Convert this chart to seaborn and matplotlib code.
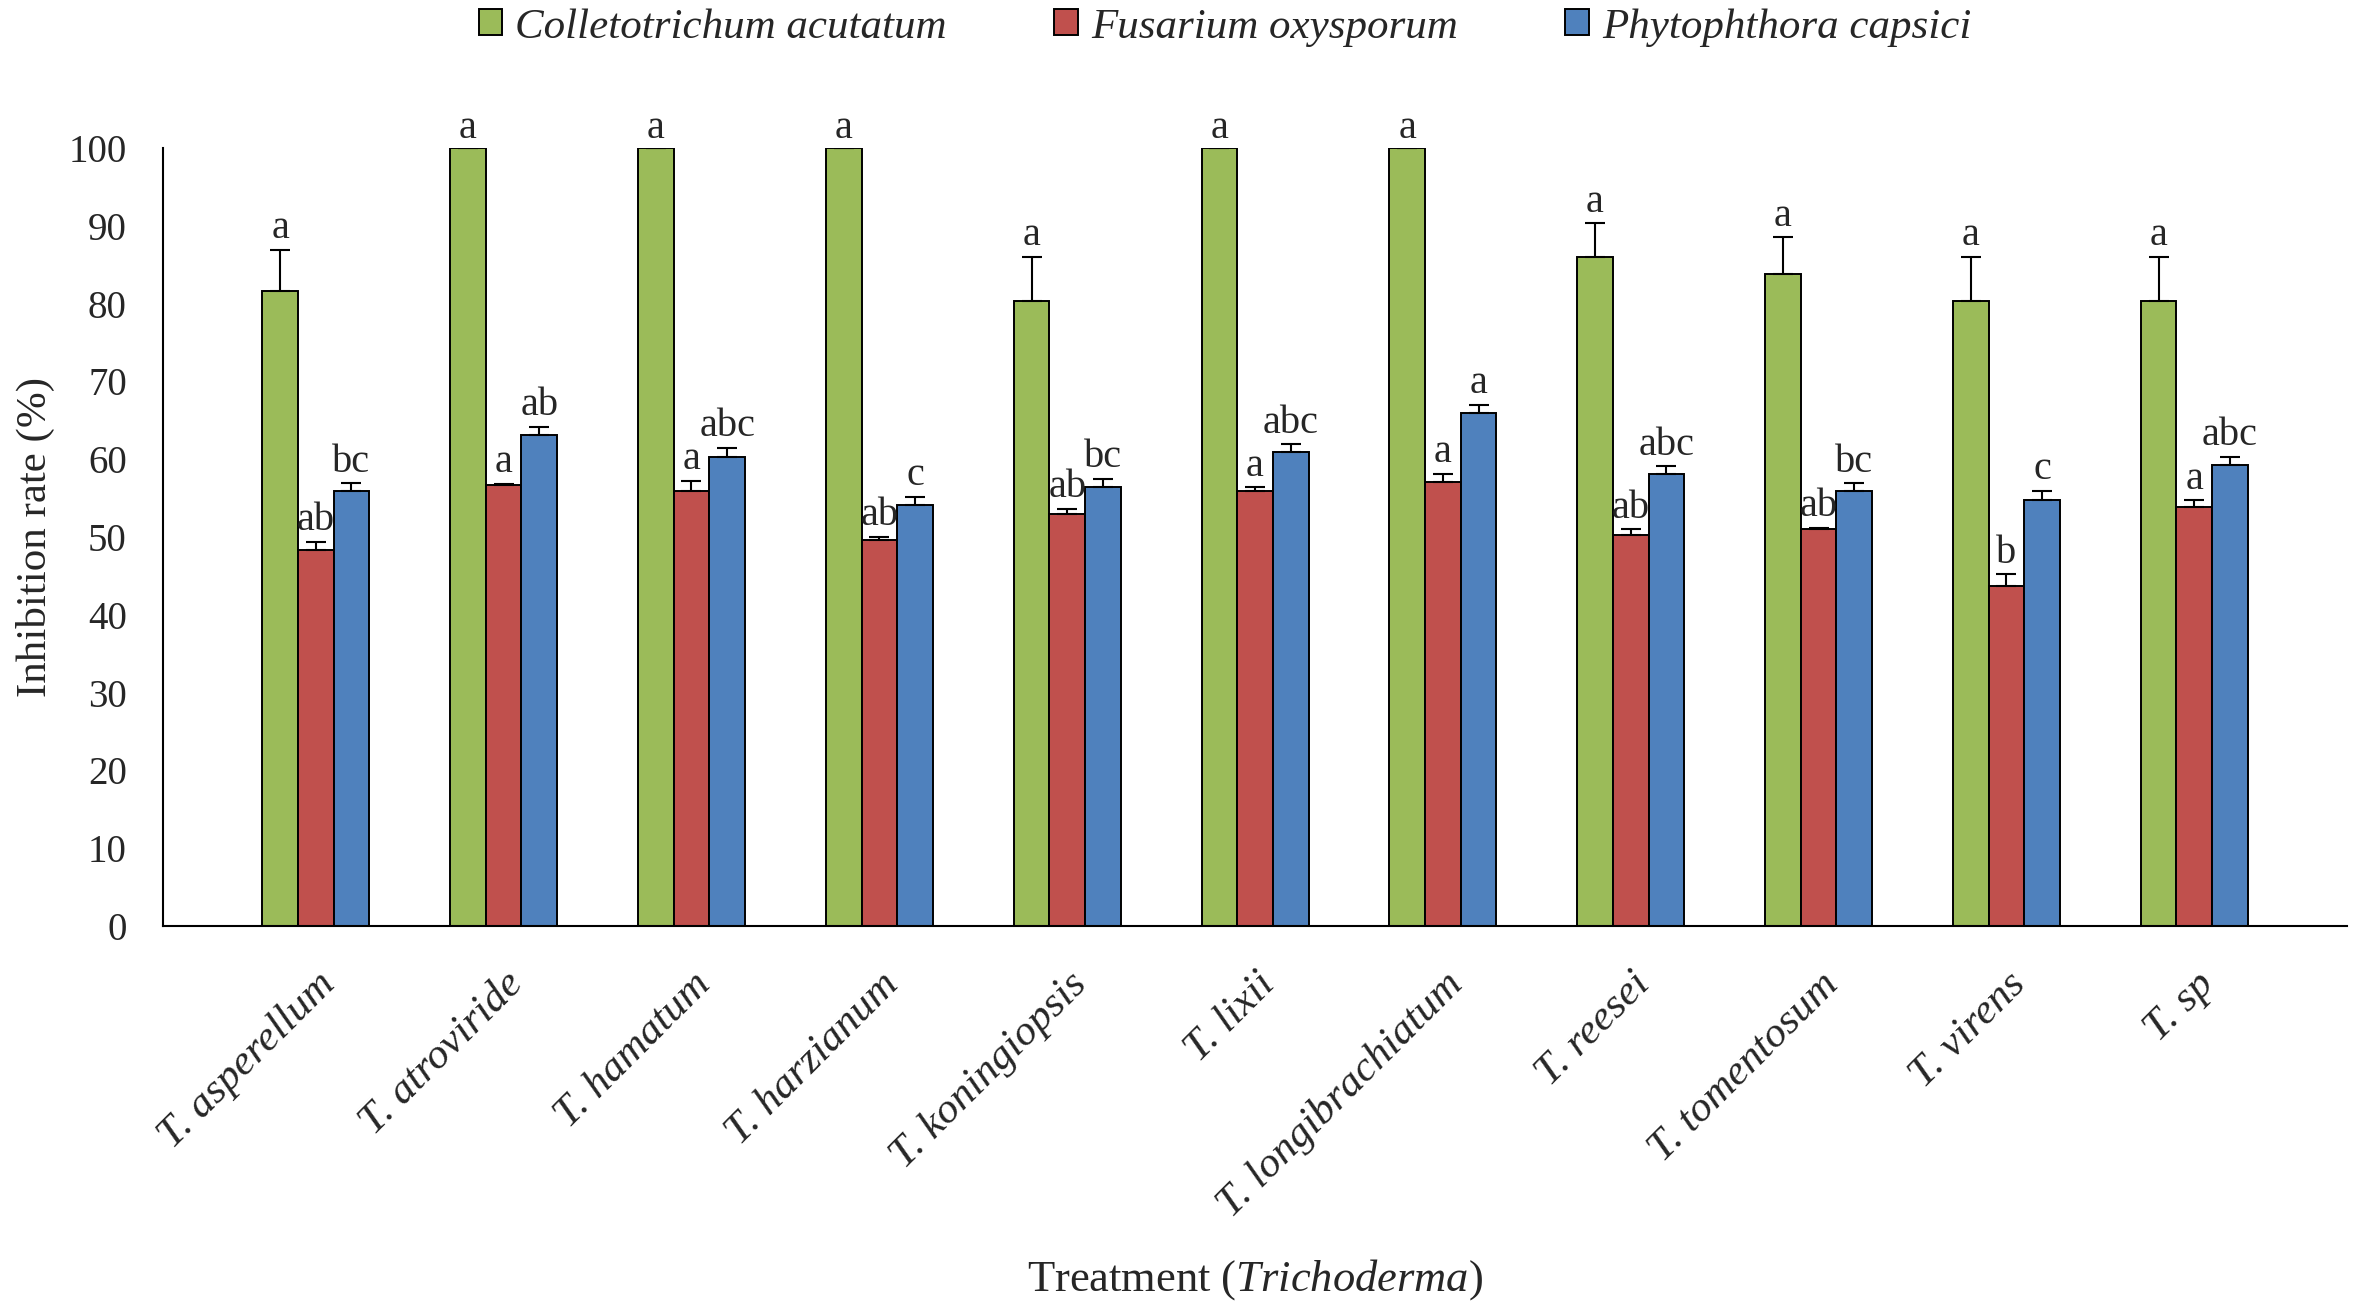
import pandas as pd
import numpy as np
import seaborn as sns
import matplotlib.pyplot as plt

# values (inhibition rate, %)
treatments = ["T. asperellum", "T. atroviride", "T. hamatum", "T. harzianum", "T. koningiopsis",
              "T. lixii", "T. longibrachiatum", "T. reesei", "T. tomentosum", "T. virens", "T. sp"]
pathogens = ["Colletotrichum acutatum", "Fusarium oxysporum", "Phytophthora capsici"]

colletotrichum = [81.6, 100, 100, 100, 80.4, 100, 100, 86.0, 83.8, 80.4, 80.4]
fusarium = [48.3, 56.7, 55.9, 49.6, 53.0, 55.9, 57.1, 50.2, 51.0, 43.7, 53.8]
phytophthora = [55.9, 63.1, 60.3, 54.1, 56.4, 60.9, 65.9, 58.1, 55.9, 54.7, 59.2]

colletotrichum_err = [5.3, 0, 0, 0, 5.6, 0, 0, 4.3, 4.7, 5.6, 5.6]
fusarium_err = [1.1, 0.1, 1.3, 0.4, 0.6, 0.5, 1.0, 0.8, 0.2, 1.5, 0.9]
phytophthora_err = [1.0, 1.1, 1.2, 1.1, 1.1, 1.0, 1.1, 1.0, 1.0, 1.2, 1.1]

colletotrichum_letters = ["a"] * 11
fusarium_letters = ["ab", "a", "a", "ab", "ab", "a", "a", "ab", "ab", "b", "a"]
phytophthora_letters = ["bc", "ab", "abc", "c", "bc", "abc", "a", "abc", "bc", "c", "abc"]

colors = ["#9BBB59", "#C0504D", "#4F81BD"]

df = pd.DataFrame({
    "treatment": treatments * 3,
    "pathogen": [p for p in pathogens for _ in treatments],
    "rate": colletotrichum + fusarium + phytophthora,
})
errs = [colletotrichum_err, fusarium_err, phytophthora_err]
letters = [colletotrichum_letters, fusarium_letters, phytophthora_letters]

sns.set_style("white")
plt.rcParams["font.family"] = ["Liberation Serif", "DejaVu Serif"]
plt.rcParams["mathtext.fontset"] = "custom"
plt.rcParams["mathtext.rm"] = "Liberation Serif"
plt.rcParams["mathtext.it"] = "Liberation Serif:italic"

fig, ax = plt.subplots(figsize=(23.62, 13.03), dpi=100)
fig.subplots_adjust(left=0.069, right=0.9937, bottom=0.2893, top=0.8864)

sns.barplot(data=df, x="treatment", y="rate", hue="pathogen", hue_order=pathogens,
            palette=colors, saturation=1, width=0.57, errorbar=None,
            edgecolor="black", linewidth=1.4, ax=ax)

# upper error bars + significance letters
for cont, err, lab in zip(ax.containers, errs, letters):
    xs = [b.get_x() + b.get_width() / 2 for b in cont]
    ys = [b.get_height() for b in cont]
    ax.errorbar(xs, ys, yerr=[np.zeros(len(err)), err], fmt="none", ecolor="black",
                elinewidth=1.5, capsize=7.5, capthick=1.5)
    for x, y, e, t in zip(xs, ys, err, lab):
        ax.text(x, y + e + (1.5 if e > 0 else 1.3), t, ha="center", va="baseline", fontsize=29)

ax.set_ylim(0, 100)
ax.set_yticks(range(0, 101, 10))
ax.tick_params(axis="y", length=0, pad=26, labelsize=28)
ax.tick_params(axis="x", length=0, pad=28)
for lbl in ax.get_xticklabels():
    lbl.set_rotation(45)
    lbl.set_ha("right")
    lbl.set_va("top")
    lbl.set_rotation_mode("anchor")
    lbl.set_fontstyle("italic")
    lbl.set_fontsize(31)

sns.despine(ax=ax)
for s in ["left", "bottom"]:
    ax.spines[s].set_color("black")
    ax.spines[s].set_linewidth(1.5)

ax.set_ylabel("Inhibition rate (%)", fontsize=31)
ax.yaxis.set_label_coords(-0.0494, 0.5)
ax.set_xlabel("Treatment ($\\it{Trichoderma}$)", fontsize=32)
ax.xaxis.set_label_coords(0.5, -0.425)

handles, labels = ax.get_legend_handles_labels()
ax.get_legend().remove()
leg = fig.legend(handles, labels, loc="center", bbox_to_anchor=(0.5186, 0.979), ncol=3,
                 frameon=False, prop={"style": "italic", "size": 31},
                 handlelength=0.55, handleheight=0.55, handletextpad=0.3, columnspacing=2.5)

plt.savefig("out.png", dpi=100)
